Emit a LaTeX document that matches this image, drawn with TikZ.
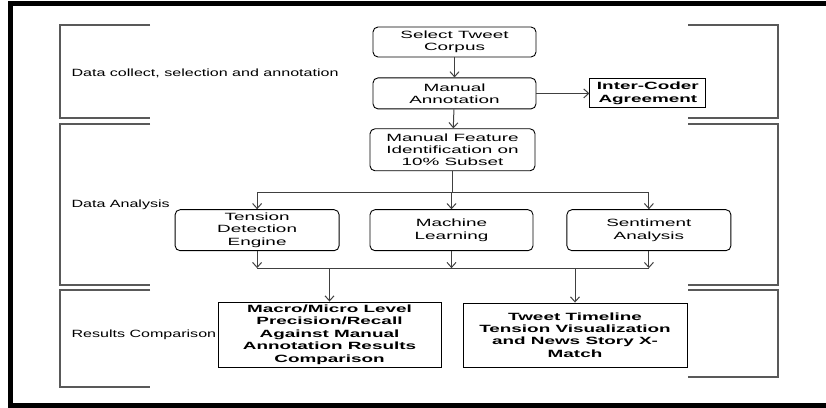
\documentclass[tikz,border=0pt]{standalone}
\usepackage{fontspec}
\usepackage{tikz}
\usetikzlibrary{arrows.meta,positioning,calc}
\newfontfamily\boxfont{Liberation Sans}[FakeStretch=1.8]
\newfontfamily\lblfont{Liberation Sans}[FakeStretch=1.53]

\begin{document}
\begin{tikzpicture}[x=1pt,y=1pt,
  font=\boxfont\fontsize{10.5}{12.3}\selectfont,
  box/.style={draw,rounded corners=5pt,align=center,inner sep=0pt,line width=0.9pt,
              minimum width=163pt,minimum height=31pt},
  rbox/.style={draw,align=center,inner sep=0pt,line width=0.9pt,font=\boxfont\bfseries\fontsize{10.5}{12.4}\selectfont},
  lbl/.style={anchor=west,font=\lblfont\fontsize{10.5}{12}\selectfont},
  brk/.style={draw=black!65,line width=1.4pt},
  arr/.style={-{Straight Barb[length=5pt,width=9pt]},draw=black!75,line width=1pt},
  lnk/.style={draw=black!75,line width=1pt}]
\useasboundingbox (0,0) rectangle (826,407);
\draw[line width=5pt] (826,403.5) -- (10.5,403.5) -- (10.5,1.5) -- (826,1.5);
\foreach \t/\b/\c in {382/289/289,283/122/122,117/20/30} {
  \draw[brk] (150,\t) -- (60,\t) -- (60,\b) -- (150,\b);
  \draw[brk] (688,\t) -- (778,\t) -- (778,\c) -- (688,\c);
}
\node[lbl] (l1) at (68,334) {Data collect, selection and annotation};
\node[lbl] (l2) at (68,202) {Data Analysis};
\node[lbl] (l3) at (68,72) {Results Comparison};
\node[box,minimum height=30pt] (sel) at (454.5,365) {Select Tweet\\Corpus};
\node[box,below=20pt of sel] (ann) {Manual\\Annotation};
\node[rbox,right=53pt of ann,minimum width=116pt,minimum height=29pt] (icr) {Inter-Coder\\Agreement};
\node[box,below=19pt of ann,minimum width=165pt,minimum height=42pt,xshift=-2pt] (feat)
  {Manual Feature\\Identification on\\10\% Subset};
\node[box,below=38pt of feat,minimum height=41pt,xshift=-1pt] (ml) {Machine\\Learning};
\node[box,left=30pt of ml,minimum width=164pt,minimum height=41pt] (ten) {Tension\\Detection\\Engine};
\node[box,right=33pt of ml,minimum width=164pt,minimum height=41pt] (sen) {Sentiment\\Analysis};
\node[rbox,minimum width=223pt,minimum height=65pt] (mac) at (329.5,72.5)
  {Macro/Micro Level\\Precision/Recall\\Against Manual\\Annotation Results\\Comparison};
\node[rbox,minimum width=224pt,minimum height=64pt] (tw) at (575,72)
  {Tweet Timeline\\Tension Visualization\\and News Story X-\\Match};
\coordinate (split) at ($(ml.north)+(0,38-21)$);
\coordinate (merge) at ($(ml.south)+(0,-17)$);
\draw[arr] (sel) -- (ann);
\draw[arr] (ann) -- (feat);
\draw[arr] (ann) -- (icr);
\draw[lnk] (feat.south) -- (feat.south |- split);
\draw[lnk] (ten.north |- split) -- (sen.north |- split);
\draw[arr] (ten.north |- split) -- (ten.north);
\draw[arr] (ml.north |- split) -- (ml.north);
\draw[arr] (sen.north |- split) -- (sen.north);
\draw[lnk] (ten.south |- merge) -- (sen.south |- merge);
\draw[arr] (ten.south) -- (ten.south |- merge);
\draw[arr] (ml.south) -- (ml.south |- merge);
\draw[arr] (sen.south) -- (sen.south |- merge);
\draw[arr] (mac.north |- merge) -- (mac.north);
\draw[arr] (tw.north |- merge) -- (tw.north);
\end{tikzpicture}
\end{document}
